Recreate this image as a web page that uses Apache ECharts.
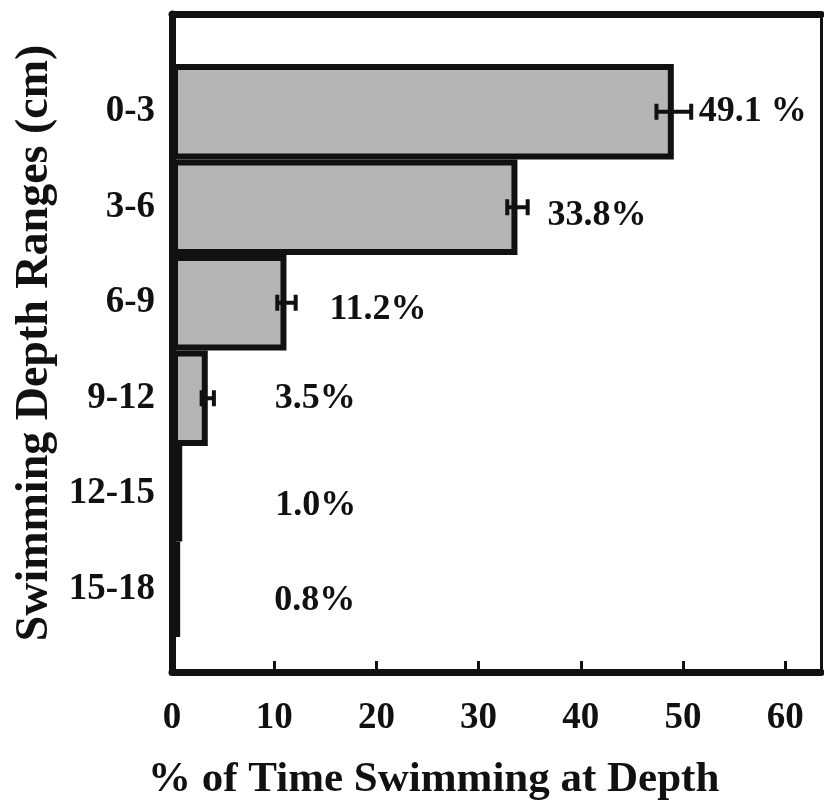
<!DOCTYPE html>
<html>
<head>
<meta charset="utf-8">
<script src="https://cdn.jsdelivr.net/npm/echarts@6/dist/echarts.min.js"></script>
<style>html,body{margin:0;padding:0;background:#fff}#c{width:824px;height:805px}</style>
</head>
<body>
<div id="c"></div>
<script>
const categories = ['0-3', '3-6', '6-9', '9-12', '12-15', '15-18'];
const values = [49.1, 33.8, 11.2, 3.5, 1.0, 0.8];
const errors = [1.7, 1.0, 0.9, 0.6, 0, 0];
const labelTexts = ['49.1 %', '33.8%', '11.2%', '3.5%', '1.0%', '0.8%'];
const xTicks = [0, 10, 20, 30, 40, 50, 60];

// label placement (style only)
const labelDistance = [25, 30, 43, 67, 93, 94];
const labelDy = [0, 8, 7, 0, 12, 11];

const FONT = 'Liberation Serif';
const INK = '#111';
const xMax = 63.5;

const chart = echarts.init(document.getElementById('c'), null, {renderer: 'canvas'});
chart.setOption({
  animation: false,
  backgroundColor: '#fff',
  title: {
    text: '% of Time Swimming at Depth',
    left: 143, top: 753,
    textStyle: {fontFamily: FONT, fontWeight: 'bold', fontSize: 43, color: INK}
  },
  grid: [
    {left: 172, right: 3, top: 14, bottom: 133},
    {left: 172, right: 3, top: 64, bottom: 168}
  ],
  xAxis: [
    {
      type: 'value', gridIndex: 0, position: 'bottom', min: 0, max: xMax, interval: 10,
      axisLine: {show: true, onZero: false, lineStyle: {color: INK, width: 7}},
      axisTick: {show: true, inside: true, length: 11, lineStyle: {color: INK, width: 3}},
      axisLabel: {
        show: true, margin: 28, showMaxLabel: false,
        fontFamily: FONT, fontWeight: 'bold', fontSize: 37, color: INK,
        formatter: v => (xTicks.indexOf(v) >= 0 ? String(v) : '')
      },
      splitLine: {show: false}
    },
    {
      type: 'value', gridIndex: 0, position: 'top', min: 0, max: xMax,
      axisLine: {show: true, onZero: false, lineStyle: {color: INK, width: 7}},
      axisTick: {show: false}, axisLabel: {show: false}, splitLine: {show: false}
    },
    {
      type: 'value', gridIndex: 1, min: 0, max: xMax, show: false
    }
  ],
  yAxis: [
    {
      type: 'value', gridIndex: 0, position: 'left', min: 0, max: 1,
      name: 'Swimming Depth Ranges (cm)', nameLocation: 'middle', nameGap: 114, nameRotate: 90,
      nameTextStyle: {fontFamily: FONT, fontWeight: 'bold', fontSize: 46, color: INK},
      axisLine: {show: true, onZero: false, lineStyle: {color: INK, width: 7}},
      axisTick: {show: false}, axisLabel: {show: false}, splitLine: {show: false}
    },
    {
      type: 'value', gridIndex: 0, position: 'right', min: 0, max: 1,
      axisLine: {show: true, onZero: false, lineStyle: {color: INK, width: 3}},
      axisTick: {show: false}, axisLabel: {show: false}, splitLine: {show: false}
    },
    {
      type: 'category', gridIndex: 1, data: categories, inverse: true,
      axisLine: {show: false},
      axisTick: {show: true, inside: true, alignWithLabel: true, length: 5, lineStyle: {color: '#555', width: 1}},
      axisLabel: {margin: 17, fontFamily: FONT, fontWeight: 'bold', fontSize: 37, color: INK},
      splitLine: {show: false}
    }
  ],
  series: [
    {
      type: 'bar', xAxisIndex: 2, yAxisIndex: 2,
      barCategoryGap: '0%',
      itemStyle: {color: '#b5b5b5', borderColor: INK, borderWidth: 6},
      data: values.map((v, i) => ({
        value: v,
        label: {distance: labelDistance[i], offset: [0, labelDy[i]]}
      })),
      label: {
        show: true, position: 'right',
        fontFamily: FONT, fontWeight: 'bold', fontSize: 36, color: INK,
        formatter: p => labelTexts[p.dataIndex]
      },
      z: 2
    },
    {
      type: 'custom', xAxisIndex: 2, yAxisIndex: 2,
      encode: {x: 1, y: 0},
      data: values.map((v, i) => [i, v, errors[i]]),
      renderItem: function (params, api) {
        const cat = api.value(0), v = api.value(1), e = api.value(2);
        if (!e) return null;
        const p1 = api.coord([v - e, cat]);
        const p2 = api.coord([v + e, cat]);
        const h = 8;
        const style = {stroke: INK, lineWidth: 4};
        return {
          type: 'group',
          children: [
            {type: 'line', shape: {x1: p1[0], y1: p1[1], x2: p2[0], y2: p2[1]}, style},
            {type: 'line', shape: {x1: p1[0], y1: p1[1] - h, x2: p1[0], y2: p1[1] + h}, style},
            {type: 'line', shape: {x1: p2[0], y1: p2[1] - h, x2: p2[0], y2: p2[1] + h}, style}
          ]
        };
      },
      z: 5
    }
  ]
});
</script>
</body>
</html>
